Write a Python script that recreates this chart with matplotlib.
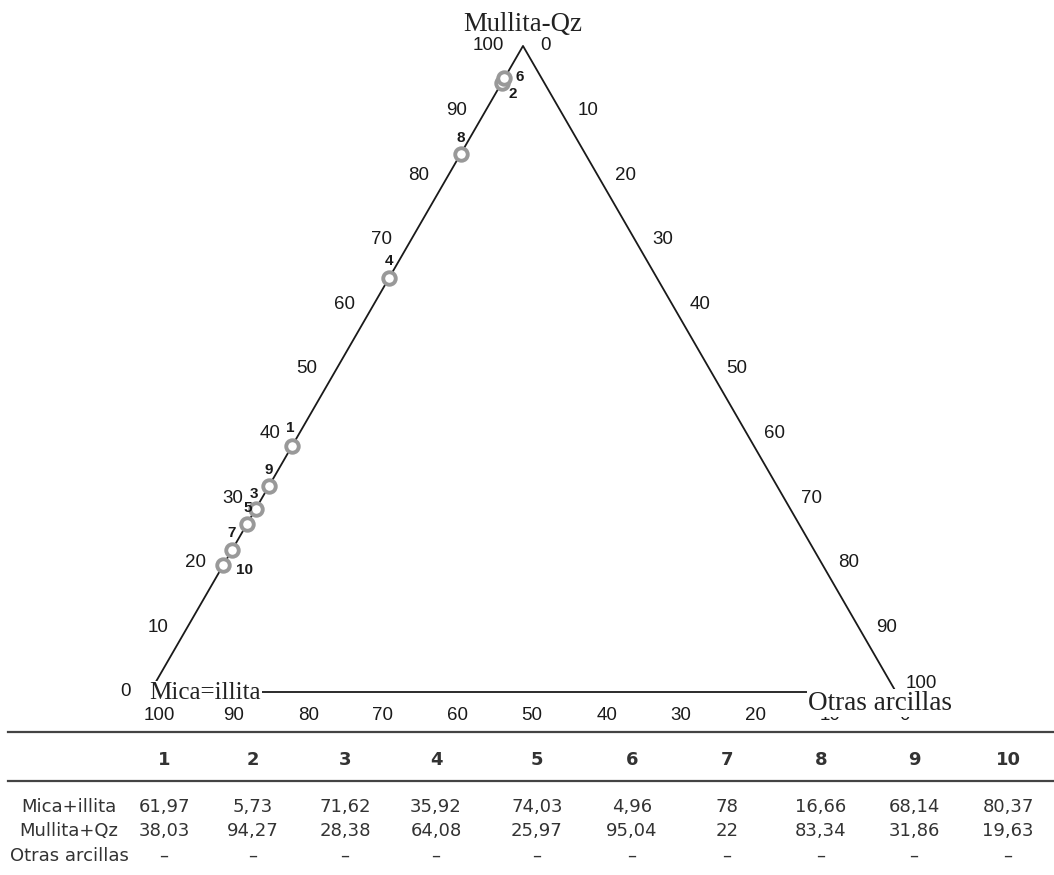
import matplotlib.pyplot as plt
import numpy as np

# ── Data ────────────────────────────────────────────────────────────────────
samples = ['1', '2', '3', '4', '5', '6', '7', '8', '9', '10']
mica    = [61.97, 5.73, 71.62, 35.92, 74.03, 4.96, 78, 16.66, 68.14, 80.37]
mullita = [38.03, 94.27, 28.38, 64.08, 25.97, 95.04, 22, 83.34, 31.86, 19.63]
otras   = [0, 0, 0, 0, 0, 0, 0, 0, 0, 0]
row_names = ['Mica+illita', 'Mullita+Qz', 'Otras arcillas']
tick_vals = [0, 10, 20, 30, 40, 50, 60, 70, 80, 90, 100]

# label offsets (pixels) for the sample numbers
lab_off = [(-2, 18), (11, -11), (-2, 15), (0, 17), (1, 16),
           (15, 1), (0, 17), (0, 16), (0, 16), (21, -5)]

W, H = 1054, 875
S = 7.46            # pixels per ternary unit
X0, Y0 = 150, 692   # pixel position of the Mica vertex

def tern(a, b, c):
    # a = Mica (left), b = Mullita (top), c = Otras (right)
    t = a + b + c
    return (c + b / 2) / t * 100, b * np.sqrt(3) / 2 / t * 100

fig = plt.figure(figsize=(W / 100, H / 100), dpi=100)
ax = fig.add_axes([0, 0, 1, 1])
ax.set_xlim(-X0 / S, (W - X0) / S)
ax.set_ylim(-(H - Y0) / S, Y0 / S)
ax.axis('off')

SANS = 'Liberation Sans'
SERIF = 'Liberation Serif'
INK = '#1a1a1a'

# ── Triangle ────────────────────────────────────────────────────────────────
vx, vy = zip(*[tern(100, 0, 0), tern(0, 0, 100), tern(0, 100, 0), tern(100, 0, 0)])
ax.plot(vx, vy, color=INK, lw=1.3, zorder=2)

# ── Tick labels ─────────────────────────────────────────────────────────────
for v in tick_vals:
    ax.annotate(str(v), tern(100 - v, v, 0), xytext=(-19, 0), textcoords='offset pixels',
                ha='right', va='center', fontsize=13.5, family=SANS, color=INK)
    # the Otras "100" sits just above the vertex label
    off = (10, 8) if v == 100 else (17, 0)
    ax.annotate(str(v), tern(0, 100 - v, v), xytext=off, textcoords='offset pixels',
                ha='left', va='center', fontsize=13.5, family=SANS, color=INK,
                zorder=7 if v == 100 else 3)
    ax.annotate(str(v), tern(v, 0, 100 - v), xytext=(9, -24), textcoords='offset pixels',
                ha='center', va='center', fontsize=13.5, family=SANS, color=INK)

# ── Vertex labels ───────────────────────────────────────────────────────────
box = dict(facecolor='white', edgecolor='none', pad=1)
ax.annotate('Mullita-Qz', tern(0, 100, 0), xytext=(0, 21), textcoords='offset pixels',
            ha='center', va='center', fontsize=19.3, family=SERIF, color='#222222', zorder=5)
ax.annotate('Mica=illita', tern(100, 0, 0), xytext=(-1, -1), textcoords='offset pixels',
            ha='left', va='center', fontsize=18, family=SERIF, color='#222222',
            bbox=box, zorder=5)
ax.annotate('Otras arcillas', tern(0, 0, 100), xytext=(-16, -11), textcoords='offset pixels',
            ha='center', va='center', fontsize=19.5, family=SERIF, color='#222222',
            bbox=box, zorder=5)

# ── Samples ─────────────────────────────────────────────────────────────────
px, py = tern(np.array(mica), np.array(mullita), np.array(otras))
ax.plot(px, py, 'o', ms=9, mfc='white', mec='#999999', mew=2.8, zorder=4)
for s, x, y, off in zip(samples, px, py, lab_off):
    ax.annotate(s, (x, y), xytext=off, textcoords='offset pixels', ha='center', va='center',
                fontsize=11, fontweight='bold', family=SANS, color=INK, zorder=6)

# ── Table ───────────────────────────────────────────────────────────────────
col_x = [164, 253, 345, 436, 537, 632, 727, 821, 914, 1008]
row_y = [807, 831, 856]
TCOL = '#333333'

def fx(x): return x / W
def fy(y): return 1 - y / H

for y in [732, 781]:
    fig.add_artist(plt.Line2D([fx(8), fx(W)], [fy(y), fy(y)], color='#444444', lw=1.6))

for s, x in zip(samples, col_x):
    fig.text(fx(x), fy(760), s, ha='center', va='center', fontsize=13,
             fontweight='bold', color=TCOL, family='DejaVu Sans')

fmt = lambda v: f'{v:g}'.replace('.', ',')
rows = [[fmt(v) for v in mica], [fmt(v) for v in mullita],
        ['–' if v == 0 else fmt(v) for v in otras]]
for name, vals, y in zip(row_names, rows, row_y):
    fig.text(fx(69), fy(y), name, ha='center', va='center', fontsize=13, color=TCOL,
             family='DejaVu Sans')
    for v, x in zip(vals, col_x):
        fig.text(fx(x), fy(y), v, ha='center', va='center', fontsize=13, color=TCOL,
                 family='DejaVu Sans')

fig.savefig('out.png', dpi=100)
